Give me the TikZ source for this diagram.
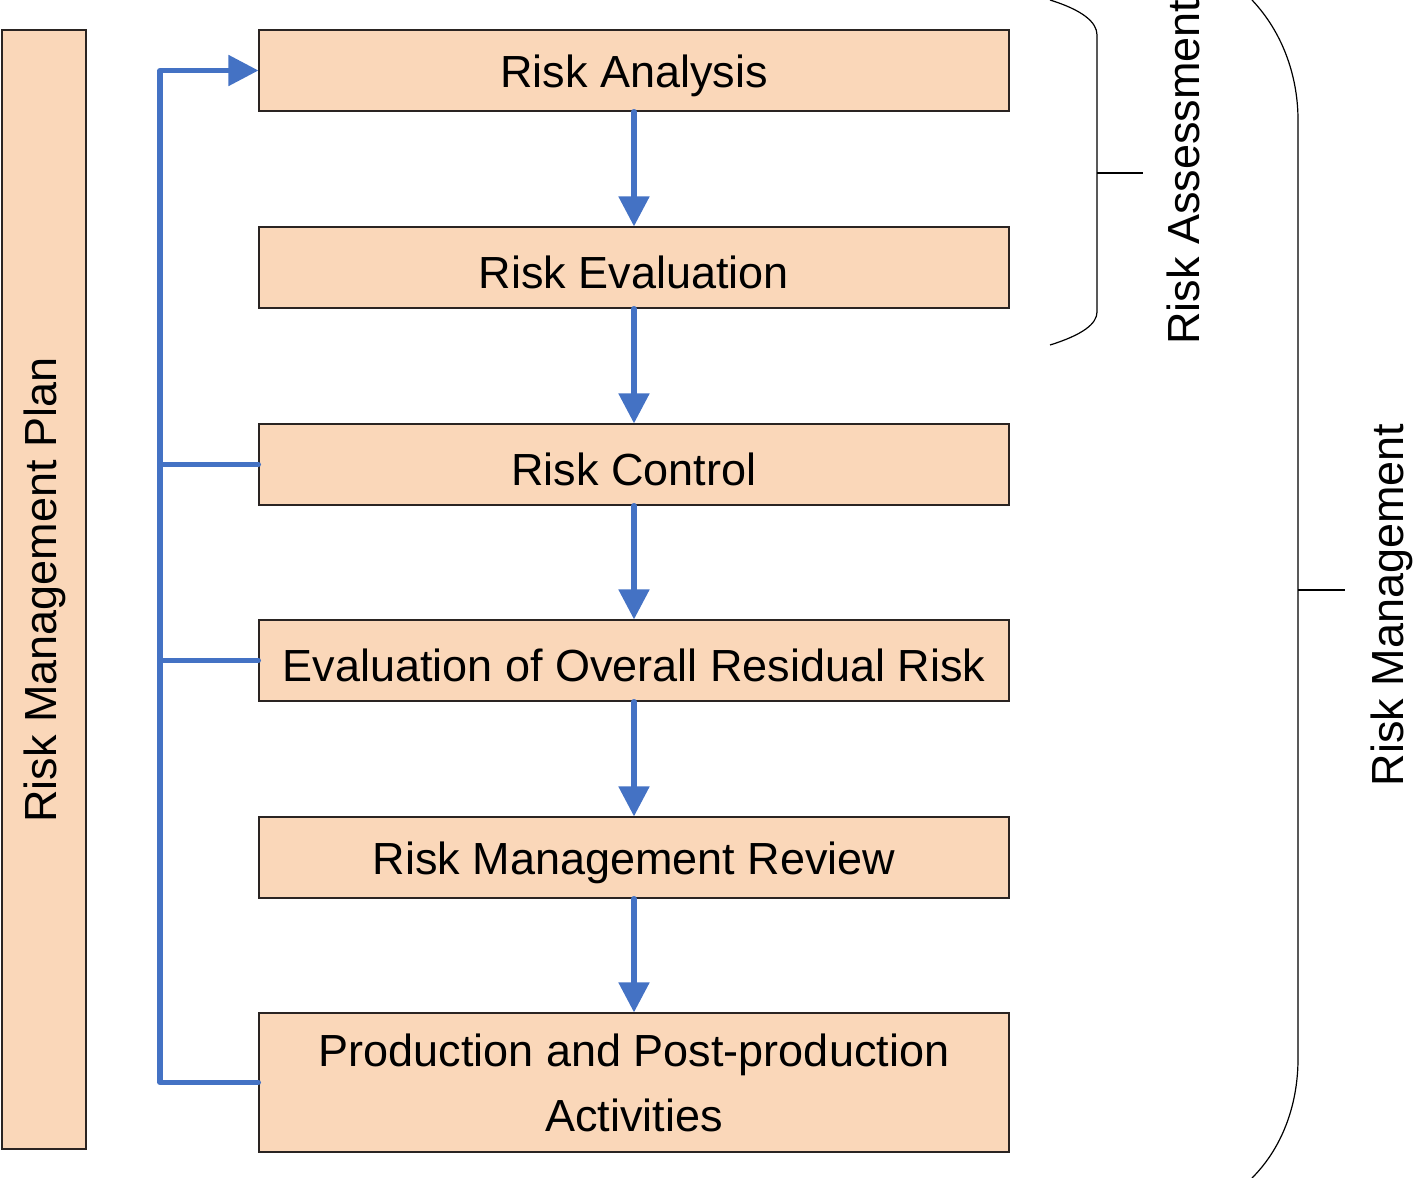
\documentclass[tikz,border=0pt]{standalone}
\usepackage{fontspec}
\setmainfont{Liberation Sans}
\usetikzlibrary{arrows.meta}
\definecolor{peach}{HTML}{FAD7B9}
\definecolor{flowblue}{HTML}{4472C4}
\definecolor{edge}{HTML}{2A2422}
\begin{document}
\begin{tikzpicture}[x=0.5pt,y=-0.5pt,
  every node/.style={font=\fontsize{22.5}{32.5}\selectfont},
  stepbox/.style={draw=edge,line width=0.6pt,fill=peach,minimum width=375pt,minimum height=40.5pt,inner sep=0pt,align=center,anchor=center},
  steptext/.style={yshift=-2.5pt,align=center},
  planbox/.style={draw=edge,line width=0.6pt,fill=peach,minimum width=42pt,minimum height=559.5pt,inner sep=0pt,anchor=center},
  flow/.style={draw=flowblue,line width=2.6pt,line cap=round,line join=round},
  tip/.style={-{Triangle[width=15pt,length=15pt]}},
  brace/.style={draw=black,line width=0.6pt}]
\useasboundingbox (0,0) rectangle (1419,1178);

\node[planbox] (plan) at (44,589.5) {};
\node[rotate=90] (plantext) at (45,590) {Risk Management Plan};

\node[stepbox] (ra) at (634,70.5) {};
\node[stepbox] (re) at (634,267.5) {};
\node[stepbox] (rc) at (634,464.5) {};
\node[stepbox] (eo) at (634,660.5) {};
\node[stepbox] (rm) at (634,857.5) {};
\node[stepbox,minimum height=69.5pt] (pp) at (634,1082.5) {};
\node[steptext] (ralabel) at (ra.center) {Risk Analysis};
\node[steptext] (relabel) at (re.center) {Risk Evaluation};
\node[steptext] (rclabel) at (rc.center) {Risk Control};
\node[steptext] (eolabel) at (eo.center) {Evaluation of Overall Residual Risk};
\node[steptext] (rmlabel) at (rm.center) {Risk Management Review};
\node[align=center] (pplabel) at (pp.center) {Production and Post-production\\Activities};

\draw[flow,tip] (ra.south) -- (re.north);
\draw[flow,tip] (re.south) -- (rc.north);
\draw[flow,tip] (rc.south) -- (eo.north);
\draw[flow,tip] (eo.south) -- (rm.north);
\draw[flow,tip] (rm.south) -- (pp.north);

\coordinate (bus) at (160,1082.5);
\draw[flow,tip] (pp.west) -- (bus) |- (ra.west);
\draw[flow] (rc.west) -- (rc.west -| bus);
\draw[flow] (eo.west) -- (eo.west -| bus);

\draw[brace] (1050,0) .. controls (1082,10) and (1097,22) .. (1097,35) -- (1097,312) .. controls (1097,324) and (1082,335) .. (1050,345);
\coordinate (b1) at (1097,173);
\coordinate (b1e) at (1143,173);
\draw[brace] (b1) -- (b1e);
\node[rotate=90] (ratext) at (1183,172) {Risk Assessment};

\draw[brace] (1252,0) .. controls (1285,35) and (1298,80) .. (1298,120) -- (1298,1059) .. controls (1298,1100) and (1285,1145) .. (1252,1178);
\coordinate (b2) at (1298,590);
\coordinate (b2e) at (1345,590);
\draw[brace] (b2) -- (b2e);
\node[rotate=90] (rmtext) at (1392,605) {Risk Management};
\end{tikzpicture}
\end{document}
